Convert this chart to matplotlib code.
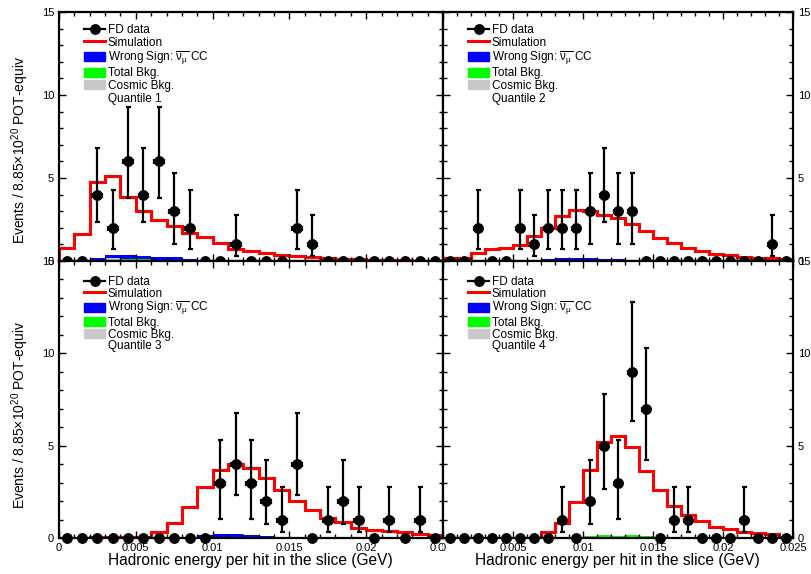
import numpy as np
import matplotlib
matplotlib.use("Agg")
import matplotlib.pyplot as plt
from matplotlib.lines import Line2D
from matplotlib.patches import Patch
from matplotlib.ticker import MultipleLocator, FuncFormatter
from matplotlib.transforms import Bbox, TransformedBbox

plt.rcParams['font.family'] = ['Liberation Sans', 'DejaVu Sans']
plt.rcParams['mathtext.fontset'] = 'custom'
plt.rcParams['mathtext.rm'] = 'Liberation Sans'
plt.rcParams['mathtext.it'] = 'Liberation Sans:italic'

# 25 bins, 0 - 0.025 GeV
edges = np.linspace(0.0, 0.025, 26)
centers = 0.5 * (edges[:-1] + edges[1:])

# FD data counts per bin
data_q1 = [0, 0, 4, 2, 6, 4, 6, 3, 2, 0, 0, 1, 0, 0, 0, 2, 1, 0, 0, 0, 0, 0, 0, 0, 0]
data_q2 = [0, 0, 2, 0, 0, 2, 1, 2, 2, 2, 3, 4, 3, 3, 0, 0, 0, 0, 0, 0, 0, 0, 0, 1, 0]
data_q3 = [0, 0, 0, 0, 0, 0, 0, 0, 0, 0, 3, 4, 3, 2, 1, 4, 0, 1, 2, 1, 0, 1, 0, 1, 0]
data_q4 = [0, 0, 0, 0, 0, 0, 0, 0, 1, 0, 2, 5, 3, 9, 7, 0, 1, 1, 0, 0, 0, 1, 0, 0, 0]

# error bar ends, indexed by count
err_low = [0, 0.32, 0.74, 1.05, 2.32, 2.66, 3.80, 4.20, 5.2, 6.32]
err_high = [0, 2.75, 4.25, 5.30, 6.78, 7.80, 9.30, 10.30, 11.5, 12.80]
xerr_half = 0.00032

# simulation
sim_q1 = [0.80, 1.64, 4.74, 5.10, 3.86, 3.00, 2.46, 2.10, 1.70, 1.44, 1.10, 0.74, 0.60,
          0.46, 0.36, 0.30, 0.26, 0.20, 0.12, 0.10, 0.08, 0.05, 0.05, 0.03, 0.02]
sim_q2 = [0.20, 0.20, 0.50, 0.70, 0.80, 0.96, 1.50, 2.00, 2.74, 3.06, 3.00, 2.80, 2.60,
          2.20, 1.80, 1.40, 1.10, 0.80, 0.60, 0.44, 0.34, 0.26, 0.20, 0.16, 0.10]
sim_q3 = [0.02, 0.02, 0.03, 0.03, 0.05, 0.07, 0.35, 0.80, 1.70, 2.76, 3.70, 4.00, 3.80,
          3.27, 2.62, 2.00, 1.50, 1.07, 0.85, 0.55, 0.44, 0.36, 0.30, 0.22, 0.16]
sim_q4 = [0.0, 0.0, 0.0, 0.0, 0.0, 0.01, 0.02, 0.30, 0.80, 1.95, 3.70, 5.20, 5.55,
          4.95, 3.64, 2.58, 1.73, 1.25, 0.90, 0.62, 0.50, 0.35, 0.25, 0.22, 0.08]

# wrong sign numubar CC
ws_q1 = [0, 0, 0.20, 0.38, 0.36, 0.30, 0.26, 0.24, 0.10, 0.05, 0.02, 0.01, 0,
         0, 0, 0, 0, 0, 0, 0, 0, 0, 0, 0, 0]
ws_q2 = [0, 0, 0, 0, 0.01, 0.02, 0.04, 0.12, 0.16, 0.16, 0.18, 0.14, 0.12,
         0.04, 0.02, 0, 0, 0, 0, 0, 0, 0, 0, 0, 0]
ws_q3 = [0, 0, 0, 0, 0, 0, 0.01, 0.03, 0.06, 0.14, 0.22, 0.22, 0.18,
         0.12, 0.04, 0.01, 0, 0, 0, 0, 0, 0, 0, 0, 0]
ws_q4 = [0, 0, 0, 0, 0, 0, 0, 0.01, 0.02, 0.04, 0.07, 0.08, 0.08,
         0.07, 0.05, 0.03, 0.02, 0.01, 0, 0, 0, 0, 0, 0, 0]

# total background
bkg_q1 = [0.02, 0.04, 0.08, 0.20, 0.12, 0.10, 0.08, 0.08, 0.06, 0.05, 0.04, 0.03, 0.03,
          0.02, 0.02, 0.01, 0.01, 0.01, 0, 0, 0, 0, 0, 0, 0]
bkg_q2 = [0.05, 0.05, 0.05, 0.05, 0.05, 0.05, 0.05, 0.05, 0.05, 0.06, 0.06, 0.05, 0.05,
          0.05, 0.04, 0.04, 0.03, 0.03, 0.02, 0.02, 0.01, 0.01, 0.01, 0.01, 0.01]
bkg_q3 = [0.01, 0.01, 0.01, 0.02, 0.02, 0.03, 0.04, 0.05, 0.05, 0.06, 0.06, 0.06, 0.06,
          0.05, 0.05, 0.04, 0.04, 0.03, 0.03, 0.02, 0.02, 0.02, 0.01, 0.01, 0.01]
bkg_q4 = [0, 0, 0, 0, 0, 0.02, 0.04, 0.05, 0.06, 0.06, 0.12, 0.14, 0.12,
          0.14, 0.12, 0.06, 0.05, 0.04, 0.03, 0.03, 0.02, 0.02, 0.02, 0.01, 0.01]

# cosmic background
cos_q1 = [0.01, 0.02, 0.04, 0.16, 0.06, 0.04, 0.03, 0.03, 0.02, 0.02, 0.02, 0.01, 0.01,
          0.01, 0.01, 0, 0, 0, 0, 0, 0, 0, 0, 0, 0]
cos_q2 = [0.03, 0.03, 0.03, 0.03, 0.03, 0.03, 0.03, 0.03, 0.03, 0.03, 0.03, 0.03, 0.03,
          0.03, 0.02, 0.02, 0.02, 0.02, 0.01, 0.01, 0.01, 0.01, 0.01, 0.01, 0.01]
cos_q3 = [0.01, 0.01, 0.01, 0.01, 0.01, 0.02, 0.02, 0.03, 0.03, 0.03, 0.03, 0.03, 0.03,
          0.03, 0.03, 0.02, 0.02, 0.02, 0.02, 0.01, 0.01, 0.01, 0.01, 0.01, 0.01]
cos_q4 = [0, 0, 0, 0, 0, 0.01, 0.02, 0.03, 0.04, 0.04, 0.05, 0.05, 0.05,
          0.05, 0.05, 0.04, 0.03, 0.03, 0.02, 0.02, 0.02, 0.01, 0.01, 0.01, 0.01]

quantiles = [
    ("Quantile 1", data_q1, sim_q1, ws_q1, bkg_q1, cos_q1),
    ("Quantile 2", data_q2, sim_q2, ws_q2, bkg_q2, cos_q2),
    ("Quantile 3", data_q3, sim_q3, ws_q3, bkg_q3, cos_q3),
    ("Quantile 4", data_q4, sim_q4, ws_q4, bkg_q4, cos_q4),
]

W, H = 811, 574
fig = plt.figure(figsize=(W / 100, H / 100), dpi=100)

# pad geometry in pixels (left, top, right, bottom)
xl0, xmid, xr1 = 59, 443, 793
yt0, ymid, yb1 = 12, 261, 538


def frac(x0, y0, x1, y1):
    return [x0 / W, 1 - y1 / H, (x1 - x0) / W, (y1 - y0) / H]


rects = [frac(xl0, yt0, xmid, ymid), frac(xmid, yt0, xr1, ymid),
         frac(xl0, ymid, xmid, yb1), frac(xmid, ymid, xr1, yb1)]

BLUE, GREEN, GREY, RED = "#0000ff", "#00ff00", "#c8c8c8", "#ff0000"
fmt = FuncFormatter(lambda v, p: "%g" % round(v, 4))

axes = []
for i, (rect, q) in enumerate(zip(rects, quantiles)):
    name, data, sim, ws, bkg, cos = q
    ax = fig.add_axes(rect)
    axes.append(ax)
    ax.stairs(ws, edges, fill=True, color=BLUE, lw=0)
    ax.stairs(bkg, edges, fill=True, color=GREEN, lw=0)
    ax.stairs(cos, edges, fill=True, color=GREY, lw=0)
    ax.stairs(sim, edges, color=RED, lw=2.2)

    d = np.array(data)
    nz = d > 0
    lo = d - np.array([err_low[n] for n in d])
    hi = np.array([err_high[n] for n in d]) - d
    ax.errorbar(centers[nz], d[nz], yerr=[lo[nz], hi[nz]], xerr=xerr_half,
                fmt="none", ecolor="black", elinewidth=1.6, capsize=1.8,
                capthick=1.6, zorder=4)
    ax.plot(centers, d, "o", color="black", ms=6.8, ls="none", zorder=5,
            clip_on=False)

    ax.set_xlim(0, 0.025)
    ax.set_ylim(0, 15)
    ax.xaxis.set_major_locator(MultipleLocator(0.005))
    ax.xaxis.set_minor_locator(MultipleLocator(0.001))
    ax.yaxis.set_major_locator(MultipleLocator(5))
    ax.yaxis.set_minor_locator(MultipleLocator(1))
    ax.xaxis.set_major_formatter(fmt)
    ax.tick_params(which="both", direction="in", top=True, bottom=True,
                   left=True, right=True, width=1.0, labelsize=8, pad=3.5)
    ax.tick_params(which="major", length=5)
    ax.tick_params(which="minor", length=2.6)
    ax.tick_params(axis="x", labelbottom=(i >= 2))
    if i % 2 == 1:
        ax.tick_params(axis="y", labelleft=False, labelright=True)
    for s in ax.spines.values():
        s.set_linewidth(1.6)

    handles = [
        Line2D([], [], color="black", marker="o", ms=6.8, lw=1.6),
        Line2D([], [], color=RED, lw=2.2),
        Patch(facecolor=BLUE, edgecolor=BLUE),
        Patch(facecolor=GREEN, edgecolor=GREEN),
        Patch(facecolor=GREY, edgecolor=GREY),
        Patch(facecolor="none", edgecolor="none"),
    ]
    labels = ["FD data", "Simulation", r"Wrong Sign: $\overline{\mathrm{\nu_{\mu}}}$ CC",
              "Total Bkg.", "Cosmic Bkg.", name]
    x0px = 84 if i % 2 == 0 else 468
    ax_left = xl0 if i % 2 == 0 else xmid
    ax_w = (xmid - xl0) if i % 2 == 0 else (xr1 - xmid)
    top_px = 24 if i < 2 else 276
    ax_top = yt0 if i < 2 else ymid
    ax_h = (ymid - yt0) if i < 2 else (yb1 - ymid)
    ax.legend(handles, labels, loc="upper left", frameon=False, fontsize=8.5,
              bbox_to_anchor=((x0px - ax_left) / ax_w, 1 - (top_px - ax_top) / ax_h),
              borderaxespad=0, borderpad=0, labelspacing=0.05 if i < 2 else -0.02,
              handlelength=1.8, handletextpad=0.2, handleheight=0.8)

# clip the bottom x tick labels at the pad boundary
split = xmid / W
for ax, box in [(axes[2], Bbox([[0, 0], [split, 1]])), (axes[3], Bbox([[split, 0], [1, 1]]))]:
    for lab in ax.get_xticklabels():
        lab.set_clip_box(TransformedBbox(box, fig.transFigure))
        lab.set_clip_on(True)

ytitle = r"Events / 8.85$\times$10$^{20}$ POT-equiv"
fig.text(20 / W, 1 - 150 / H, ytitle, rotation=90, ha="center", va="center", fontsize=10)
fig.text(20 / W, 1 - 415 / H, ytitle, rotation=90, ha="center", va="center", fontsize=10)

xtitle = "Hadronic energy per hit in the slice (GeV)"
fig.text(250 / W, 1 - 561 / H, xtitle, ha="center", va="center", fontsize=11.2)
fig.text(617 / W, 1 - 561 / H, xtitle, ha="center", va="center", fontsize=11.2)

fig.savefig("out.png", dpi=100)
